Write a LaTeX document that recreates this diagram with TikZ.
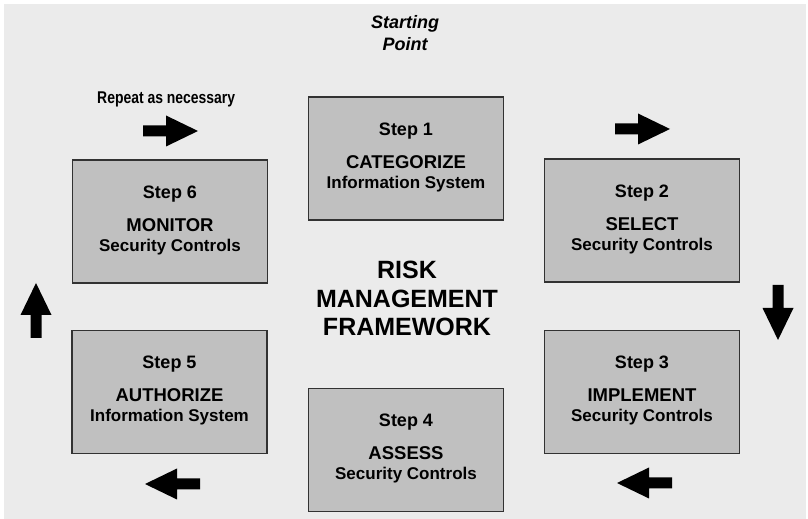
\documentclass[tikz,border=0pt]{standalone}
\usepackage{fontspec}
\setmainfont{Liberation Sans}
\newfontfamily\narrowsans{Liberation Sans}[FakeStretch=0.82]
\usetikzlibrary{calc}
\definecolor{bggray}{RGB}{235,235,235}
\definecolor{boxgray}{RGB}{192,192,192}
\definecolor{edgegray}{RGB}{50,50,50}

\begin{document}
\begin{tikzpicture}[
    x=1pt, y=1pt,
    every node/.style={font=\bfseries},
    stepbox/.style={draw=edgegray, line width=1.2pt, fill=boxgray, minimum width=195pt, minimum height=123pt, align=center, inner sep=0pt, font=\bfseries\fontsize{18}{20}\selectfont, execute at end node={\rule[-6pt]{0pt}{0pt}}},
    pics/flowarrow/.style={code={
        \fill[black] (0,-5.5) -- (23,-5.5) -- (23,-15.5) -- (55,0) -- (23,15.5) -- (23,5.5) -- (0,5.5) -- cycle;
    }},
]

%% Background
\fill[white] (0,0) rectangle (808,519);
\fill[bggray] (4,0) rectangle (806,515);

%% Title text
\node[align=center, font=\bfseries\itshape\fontsize{18}{22}\selectfont] (start) at (405, 485.5) {Starting\\Point};
\node[anchor=base west, inner sep=0pt, font=\bfseries\narrowsans\fontsize{17}{17}\selectfont] (repeat) at (97, 415) {Repeat as necessary};
\node[align=center, font=\bfseries\fontsize{25}{28.5}\selectfont] (rmf) at (407, 220.5) {RISK\\MANAGEMENT\\FRAMEWORK};

%% Steps
\node[stepbox] (s1) at (406, 360.5) {Step 1\\[13pt]{\fontsize{18.5}{20}\selectfont CATEGORIZE}\\{\fontsize{17}{20}\selectfont Information System}};
\node[stepbox] (s2) at (642, 298.5) {Step 2\\[13pt]{\fontsize{18.5}{20}\selectfont SELECT}\\{\fontsize{17}{20}\selectfont Security Controls}};
\node[stepbox] (s3) at (642, 127) {Step 3\\[13pt]{\fontsize{18.5}{20}\selectfont IMPLEMENT}\\{\fontsize{17}{20}\selectfont Security Controls}};
\node[stepbox] (s4) at (406, 69) {Step 4\\[13pt]{\fontsize{18.5}{20}\selectfont ASSESS}\\{\fontsize{17}{20}\selectfont Security Controls}};
\node[stepbox] (s5) at (169.5, 127) {Step 5\\[13pt]{\fontsize{18.5}{20}\selectfont AUTHORIZE}\\{\fontsize{17}{20}\selectfont Information System}};
\node[stepbox] (s6) at (170, 297.5) {Step 6\\[13pt]{\fontsize{18.5}{20}\selectfont MONITOR}\\{\fontsize{17}{20}\selectfont Security Controls}};

%% Cycle arrows
\pic (a61) at (143, 388) {flowarrow};
\pic (a12) at (615, 390) {flowarrow};
\pic[rotate=-90] (a23) at (778, 234) {flowarrow};
\pic[rotate=180] (a34) at (672, 36) {flowarrow};
\pic[rotate=180] (a45) at (200, 35) {flowarrow};
\pic[rotate=90] (a56) at (36, 181) {flowarrow};

\end{tikzpicture}
\end{document}
